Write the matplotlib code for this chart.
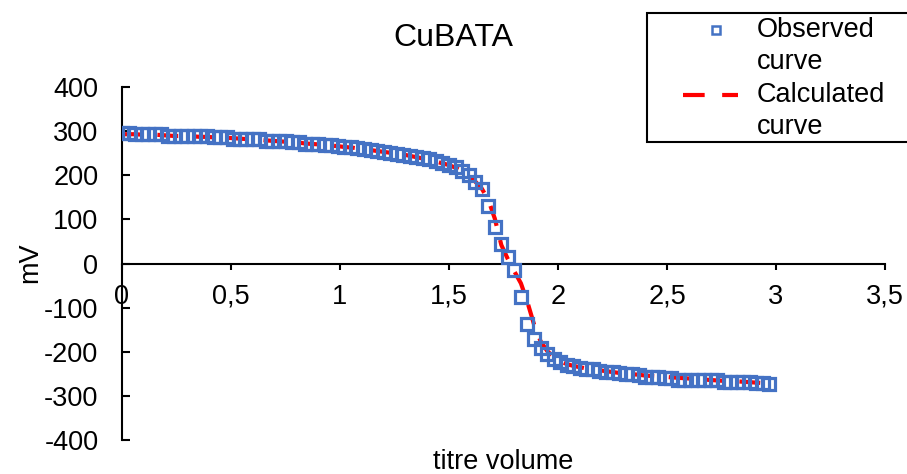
import matplotlib
matplotlib.use("Agg")
import matplotlib.pyplot as plt
from matplotlib.ticker import FixedLocator, FuncFormatter
from matplotlib.lines import Line2D
from matplotlib.patches import Rectangle

plt.rcParams['font.family'] = ['Liberation Sans', 'DejaVu Sans']

# ---- data ----
volume = [0.00, 0.03, 0.06, 0.09, 0.12, 0.15, 0.18, 0.21, 0.24, 0.27,
          0.30, 0.33, 0.36, 0.39, 0.42, 0.45, 0.48, 0.51, 0.54, 0.57,
          0.60, 0.63, 0.66, 0.69, 0.72, 0.75, 0.78, 0.81, 0.84, 0.87,
          0.90, 0.93, 0.96, 0.99, 1.02, 1.05, 1.08, 1.11, 1.14, 1.17,
          1.20, 1.23, 1.26, 1.29, 1.32, 1.35, 1.38, 1.41, 1.44, 1.47,
          1.50, 1.53, 1.56, 1.59, 1.62, 1.65, 1.68, 1.71, 1.74, 1.77,
          1.80, 1.83, 1.86, 1.89, 1.92, 1.95, 1.98, 2.01, 2.04, 2.07,
          2.10, 2.13, 2.16, 2.19, 2.22, 2.25, 2.28, 2.31, 2.34, 2.37,
          2.40, 2.43, 2.46, 2.49, 2.52, 2.55, 2.58, 2.61, 2.64, 2.67,
          2.70, 2.73, 2.76, 2.79, 2.82, 2.85, 2.88, 2.91, 2.94, 2.97]

observed = [295, 295, 294, 294, 294, 293, 293, 290, 289, 289,
            289, 288, 288, 288, 287, 287, 286, 283, 283, 283,
            282, 282, 278, 277, 277, 277, 276, 276, 271, 270,
            270, 269, 269, 266, 264, 263, 261, 259, 257, 254,
            252, 250, 249, 247, 244, 242, 239, 236, 232, 228,
            223, 218, 210, 200, 185, 168, 130, 82, 45, 14,
            -14, -77, -136, -172, -192, -206, -216, -224, -229, -233,
            -236, -238, -240, -243, -245, -247, -249, -250, -251, -253,
            -257, -258, -258, -259, -259, -263, -263, -264, -264, -264,
            -265, -265, -268, -268, -269, -269, -269, -270, -270, -274]

calculated = [293, 293, 293, 292, 292, 292, 291, 290, 289, 289,
              288, 288, 287, 287, 286, 286, 285, 284, 283, 282,
              281, 280, 279, 278, 277, 276, 275, 274, 272, 271,
              270, 269, 267, 266, 264, 263, 261, 259, 257, 255,
              253, 251, 249, 247, 244, 241, 238, 235, 231, 227,
              223, 217, 209, 199, 186, 170, 145, 102, 42, 10,
              -18, -45, -88, -138, -176, -198, -212, -221, -228, -232,
              -235, -238, -240, -242, -244, -246, -248, -249, -251, -252,
              -254, -255, -256, -257, -258, -259, -260, -261, -262, -263,
              -264, -265, -266, -266, -267, -268, -269, -270, -271, -272]

x_ticks = [0, 0.5, 1, 1.5, 2, 2.5, 3, 3.5]
y_ticks = [-400, -300, -200, -100, 0, 100, 200, 300, 400]

BLUE = '#4472C4'
RED = '#FF0000'
DASH = (0, (5, 3.5))

W, H = 907, 474
fig = plt.figure(figsize=(W / 100, H / 100), dpi=100)
ax = fig.add_axes([122 / W, 1 - 440 / H, (885 - 122) / W, (440 - 87) / H])

ax.plot(volume, calculated, color=RED, lw=3.0, linestyle=DASH, zorder=2)
ax.plot(volume, observed, linestyle='none', marker='s', markersize=9.2,
        markerfacecolor='none', markeredgecolor=BLUE, markeredgewidth=2.3,
        zorder=3)

ax.set_xlim(0, 3.5)
ax.set_ylim(-400, 400)
ax.spines['top'].set_visible(False)
ax.spines['right'].set_visible(False)
ax.spines['bottom'].set_position(('data', 0))
for s in ('left', 'bottom'):
    ax.spines[s].set_linewidth(1.5)
    ax.spines[s].set_color('black')

ax.xaxis.set_major_locator(FixedLocator(x_ticks))
ax.yaxis.set_major_locator(FixedLocator(y_ticks))
ax.xaxis.set_major_formatter(FuncFormatter(lambda v, p: ('%g' % v).replace('.', ',')))
ax.yaxis.set_major_formatter(FuncFormatter(lambda v, p: '%d' % v))
ax.tick_params(axis='x', direction='out', length=4.5, width=1.5, pad=10, labelsize=19.5)
ax.tick_params(axis='y', direction='in', length=6, width=1.5, pad=17, labelsize=19.5)

fig.text(453 / W, 1 - 38 / H, 'CuBATA', ha='center', va='center', fontsize=23)
fig.text(30 / W, 1 - 263 / H, 'mV', rotation=90, ha='center', va='center', fontsize=19.5)
fig.text(503 / W, 1 - 462 / H, 'titre volume', ha='center', va='center', fontsize=19.5)

# ---- legend (drawn in figure pixel coordinates) ----
def fx(px):
    return px / W

def fy(py):
    return 1 - py / H

fig.add_artist(Rectangle((fx(647), fy(142)), fx(930) - fx(647), fy(13) - fy(142),
                         transform=fig.transFigure, facecolor='white',
                         edgecolor='black', lw=1.5, zorder=5))
fig.add_artist(Line2D([fx(716)], [fy(30)], transform=fig.transFigure,
                      marker='s', markersize=6.3, markerfacecolor='none',
                      markeredgecolor=BLUE, markeredgewidth=1.8, linestyle='none',
                      zorder=6))
fig.add_artist(Line2D([fx(683), fx(738)], [fy(95), fy(95)], transform=fig.transFigure,
                      color=RED, lw=3.0, linestyle=(0, (5.2, 4.2)), zorder=6))
for txt, py in [('Observed', 30), ('curve', 62), ('Calculated', 95), ('curve', 127)]:
    fig.text(fx(757), fy(py), txt, ha='left', va='center', fontsize=19.5, zorder=7)

fig.savefig('out.png', dpi=100)
